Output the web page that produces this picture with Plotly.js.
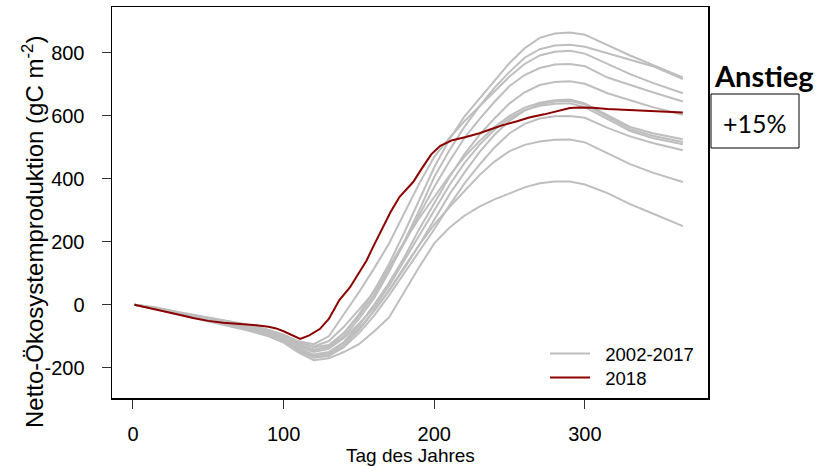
<!DOCTYPE html>
<html>
<head>
<meta charset="utf-8">
<script src="https://cdn.plot.ly/plotly-3.0.1.min.js"></script>
<style>html,body{margin:0;padding:0;background:#fff;}#chart{width:831px;height:466px;}</style>
</head>
<body>
<div id="chart"></div>
<script>
// Day-of-year grid for the grey reference years (2002-2017)
const greyDays = [1,15,30,45,60,75,90,100,110,120,130,140,150,160,170,180,190,200,210,220,230,240,250,260,270,280,290,300,315,330,345,365];
const grey01 = [0,-9,-24,-38,-50,-63,-80,-95,-118,-135,-128,-90,-30,45,130,228,335,437,525,598,655,712,768,815,848,862,865,858,825,792,762,722];
const grey02 = [0,-10,-26,-41,-54,-68,-86,-102,-125,-142,-135,-100,-45,20,105,200,300,406,490,565,630,690,740,785,812,824,826,820,800,778,758,717];
const grey03 = [0,-8,-23,-37,-49,-62,-80,-96,-116,-125,-100,-30,40,115,195,290,385,470,530,583,630,678,725,765,792,804,807,798,765,733,705,672];
const grey04 = [0,-11,-27,-42,-55,-70,-88,-105,-128,-145,-132,-90,-35,30,110,195,285,374,455,530,590,645,695,730,752,763,765,758,722,698,675,646];
const grey05 = [0,-12,-29,-44,-58,-73,-93,-112,-138,-158,-150,-118,-65,0,70,150,240,324,405,478,540,592,640,675,698,708,710,702,672,650,628,604];
const grey06 = [0,-9,-25,-39,-52,-66,-84,-100,-120,-132,-115,-70,-15,40,120,200,275,343,410,470,520,565,600,626,642,650,652,640,602,565,545,526];
const grey07 = [0,-12,-29,-45,-60,-76,-95,-115,-142,-162,-155,-120,-75,-20,45,115,190,270,350,420,485,540,585,617,637,646,648,636,596,558,537,517];
const grey08 = [0,-11,-27,-43,-57,-72,-91,-108,-133,-150,-140,-105,-60,-10,60,140,220,302,380,450,508,556,593,618,632,639,640,628,590,552,530,510];
const grey09 = [0,-13,-30,-46,-61,-78,-98,-118,-148,-168,-163,-135,-90,-35,30,100,170,240,315,385,445,500,545,575,592,599,600,594,562,535,514,491];
const grey10 = [0,-12,-28,-44,-59,-75,-96,-117,-145,-165,-160,-128,-80,-20,45,120,190,255,310,360,412,455,488,508,519,524,525,516,482,447,420,390];
const grey11 = [0,-13,-31,-47,-63,-80,-100,-120,-152,-176,-170,-150,-125,-85,-40,40,120,195,245,283,312,335,355,373,386,392,392,382,355,320,290,250];

// 2018
const days2018 = [1,10,20,30,40,50,60,70,80,90,95,100,105,111,117,124,130,137,144,150,155,159,165,171,177,182,186,192,198,204,212,221,230,237,245,255,263,273,283,290,296,305,315,325,336,350,365];
const nep2018 = [0,-9,-20,-31,-42,-51,-57,-60,-64,-70,-75,-84,-96,-108,-97,-77,-45,15,55,100,140,180,239,295,343,370,390,435,478,505,523,533,545,557,570,583,595,605,617,625,627,626,622,620,618,614,611];

const xTicks = [0,100,200,300];
const yTicks = [-200,0,200,400,600,800];
const legendGrey = "2002-2017";
const legendRed = "2018";

const NB = '\u00a0\u00a0';
const greySeries = [grey01,grey02,grey03,grey04,grey05,grey06,grey07,grey08,grey09,grey10,grey11];
const traces = greySeries.map((s,i)=>({
  x: greyDays, y: s, type:'scatter', mode:'lines',
  line:{color:'#bebebe', width:2},
  name: NB + legendGrey, legendgroup:'grey', showlegend: i===0, legend:'legend',
  hoverinfo:'skip'
}));
traces.push({x: days2018, y: nep2018, type:'scatter', mode:'lines',
  line:{color:'#8b0000', width:2}, name: NB + legendRed, showlegend:true, legend:'legend2'});

const F = 'Liberation Sans, Arial, sans-serif';
const L = 112, R = 123, T = 7, B = 68;
const W = 831 - L - R, H = 466 - T - B;
const px = x => (x - L) / W;
const py = y => (466 - B - y) / H;

const legendBase = {xanchor:'left', yanchor:'top', bgcolor:'rgba(0,0,0,0)',
    font:{size:18.5, family:F, color:'#000'}, itemwidth:40, tracegroupgap:0};

const layout = {
  width:831, height:466,
  margin:{l:L, r:R, t:T, b:B, pad:0},
  paper_bgcolor:'#fff', plot_bgcolor:'#fff',
  font:{family:F, color:'#000'},
  xaxis:{range:[-13.9,381.7], tickvals:xTicks, ticktext:xTicks.map(String),
    ticks:'outside', ticklen:9, tickwidth:1, tickcolor:'#333',
    showline:true, linecolor:'#000', linewidth:1.5, mirror:true,
    showgrid:false, zeroline:false, tickfont:{size:20, family:F, color:'#000'},
    ticklabelstandoff:8},
  yaxis:{range:[-296,946], tickvals:yTicks, ticktext:yTicks.map(String),
    ticks:'outside', ticklen:9, tickwidth:1, tickcolor:'#333',
    showline:true, linecolor:'#000', linewidth:1.5, mirror:true,
    showgrid:false, zeroline:false, tickfont:{size:20, family:F, color:'#000'},
    ticklabelstandoff:13},
  showlegend:true,
  legend:Object.assign({x:px(545), y:py(335)}, legendBase),
  legend2:Object.assign({x:px(545), y:py(359)}, legendBase),
  annotations:[
    {xref:'paper', yref:'paper', x:px(33), y:py(232), text:'Netto-Ökosystemproduktion (gC m<sup>-2</sup>)',
     textangle:-90, showarrow:false, font:{size:24, family:F, color:'#000'}, xanchor:'center', yanchor:'middle'},
    {xref:'paper', yref:'paper', x:px(410), y:py(455), text:'Tag des Jahres',
     showarrow:false, font:{size:19, family:F, color:'#000'}, xanchor:'center', yanchor:'middle'},
    {xref:'paper', yref:'paper', x:px(764), y:py(75), text:'<b>Anstieg</b>',
     showarrow:false, font:{size:29, family:'Lato, sans-serif', color:'#000'}, xanchor:'center', yanchor:'middle'},
    {xref:'paper', yref:'paper', x:px(755), y:py(123), text:'+15%',
     showarrow:false, font:{size:25, family:'Lato, sans-serif', color:'#000'}, xanchor:'center', yanchor:'middle'}
  ],
  shapes:[
    {type:'rect', xref:'paper', yref:'paper', x0:px(711), x1:px(799), y0:py(148), y1:py(94),
     line:{color:'#000', width:1}, fillcolor:'rgba(0,0,0,0)'}
  ]
};
Plotly.newPlot('chart', traces, layout, {displayModeBar:false, staticPlot:true});
</script>
</body>
</html>
